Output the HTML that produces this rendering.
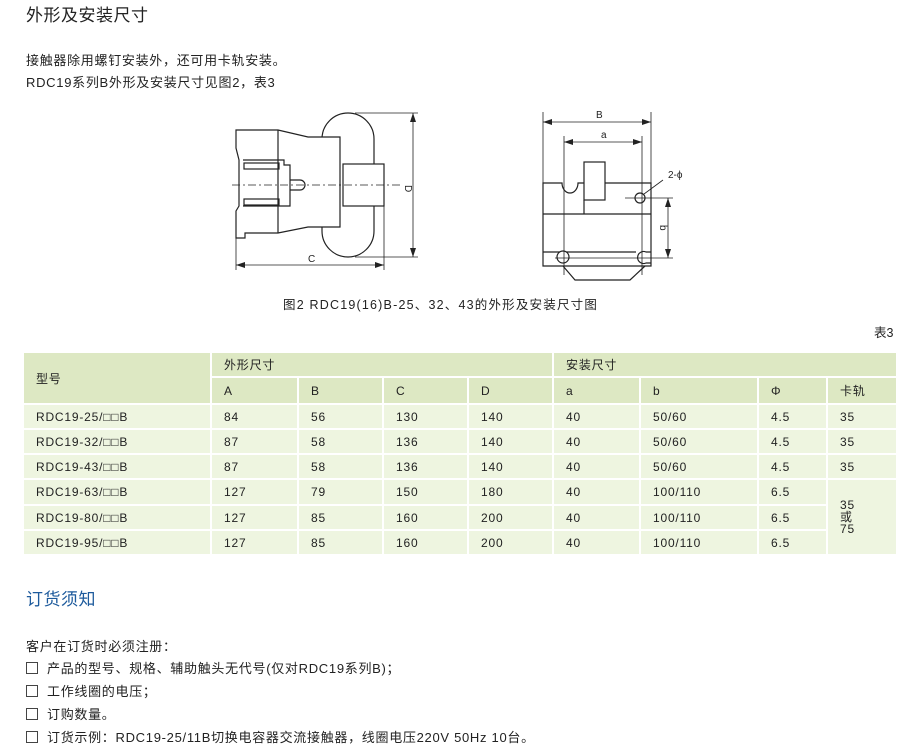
<!DOCTYPE html>
<html><head><meta charset="utf-8"><style>
body{margin:0;width:920px;height:751px;background:#fff;position:relative;font-family:"Liberation Sans","Noto Sans CJK SC",sans-serif;color:#222;overflow:hidden}
.t{position:absolute;white-space:nowrap;line-height:1}
.p{font-size:13px;letter-spacing:0.7px}
.cb{display:inline-block;width:10px;height:10px;border:1px solid #444;vertical-align:-1px;margin-right:9px}
table{position:absolute;left:24px;top:353px;border-collapse:separate;border-spacing:0;table-layout:fixed;width:874px;font-size:12px;letter-spacing:0.8px;color:#222}
td{box-sizing:border-box;border-right:2px solid #fff;border-bottom:2px solid #fff;padding:0 0 0 12px;background:#eef5e0;overflow:hidden;white-space:nowrap}
tr{height:25px}
tr.h td{background:#dde8c3}
</style></head><body>
<div class="t" style="left:26px;top:7px;font-size:17px;letter-spacing:0.5px">外形及安装尺寸</div>
<div class="t p" style="left:26px;top:54px">接触器除用螺钉安装外，还可用卡轨安装。</div>
<div class="t p" style="left:26px;top:76px">RDC19系列B外形及安装尺寸见图2，表3</div>

<svg style="position:absolute;left:0;top:0" width="920" height="330" fill="none" stroke="#222" stroke-width="1.2">
<rect x="322" y="113" width="52" height="144" rx="26"/>
<rect x="343" y="164" width="41" height="42" fill="#fff"/>
<path d="M236 130 H278 L308 137 H340 V227 H308 L278 233 H245 V238 H236 V211 L239 206 V160 L236 148 Z" fill="#fff"/>
<path d="M278 130 V233 M243 160 H284 V165 H290 V206 H284 M243 206 H284"/>
<rect x="244" y="163" width="35" height="6"/><rect x="244" y="199" width="35" height="6"/>
<path d="M290 180 H300 A4 4 0 0 1 300 190 H290"/>
<path d="M232 185 H400" stroke-dasharray="8 3 2 3" stroke-width="0.8"/>
<path d="M355 113 H418 M355 257 H418 M413 113 V257 M236 238 V270 M384 206 V270 M236 265 H384" stroke-width="0.8"/>
<path d="M413 113 l-3 9 h6z M413 257 l-3 -9 h6z M236 265 l9 -3 v6z M384 265 l-9 -3 v6z" fill="#222" stroke="none"/>
<path d="M543 183 H562 A8 10 0 0 0 578 183 H651 V266 H543 Z" fill="#fff"/>
<path d="M543 214 H651 M543 252 H636 M584 200 V214"/>
<rect x="584" y="162" width="21" height="38" fill="#fff"/>
<circle cx="640" cy="198" r="5"/>
<circle cx="563" cy="257" r="6" fill="#fff"/>
<path d="M651 252 H646 A6 6 0 1 0 646 263 H651"/>
<path d="M563 266 L575 280 H630 L645 266"/>
<path d="M543 112 V250 M651 112 V250 M543 122 H651 M564 136 V275 M642 136 V275 M564 142 H642 M625 198 H673 M555 258 H673 M668 198 V258 M644 194 L663 180" stroke-width="0.8"/>
<path d="M543 122 l9 -3 v6z M651 122 l-9 -3 v6z M564 142 l9 -3 v6z M642 142 l-9 -3 v6z M668 198 l-3 9 h6z M668 258 l-3 -9 h6z" fill="#222" stroke="none"/>
<g fill="#222" stroke="none" font-size="10" font-family="Liberation Sans,sans-serif">
<text x="596" y="118">B</text><text x="601" y="138">a</text>
<text x="308" y="262">C</text>
<text transform="translate(405,185) rotate(90)">D</text>
<text transform="translate(660,225) rotate(90)">b</text>
<text x="668" y="178">2-ϕ</text>
</g>
</svg>

<div class="t" style="left:283px;top:299px;font-size:12.5px;letter-spacing:1.2px">图2 RDC19(16)B-25、32、43的外形及安装尺寸图</div>
<div class="t" style="left:874px;top:327px;font-size:12.5px">表3</div>

<table>
<colgroup><col style="width:188px"><col style="width:87px"><col style="width:85px"><col style="width:85px"><col style="width:85px"><col style="width:87px"><col style="width:118px"><col style="width:69px"><col style="width:70px"></colgroup>
<tr class="h"><td rowspan="2">型号</td><td colspan="4">外形尺寸</td><td colspan="4">安装尺寸</td></tr>
<tr class="h" style="height:27px"><td>A</td><td>B</td><td>C</td><td>D</td><td>a</td><td>b</td><td>Φ</td><td>卡轨</td></tr>
<tr><td>RDC19-25/□□B</td><td>84</td><td>56</td><td>130</td><td>140</td><td>40</td><td>50/60</td><td>4.5</td><td>35</td></tr>
<tr><td>RDC19-32/□□B</td><td>87</td><td>58</td><td>136</td><td>140</td><td>40</td><td>50/60</td><td>4.5</td><td>35</td></tr>
<tr><td>RDC19-43/□□B</td><td>87</td><td>58</td><td>136</td><td>140</td><td>40</td><td>50/60</td><td>4.5</td><td>35</td></tr>
<tr style="height:26px"><td>RDC19-63/□□B</td><td>127</td><td>79</td><td>150</td><td>180</td><td>40</td><td>100/110</td><td>6.5</td><td rowspan="3" style="line-height:12px">35<br>或<br>75</td></tr>
<tr><td>RDC19-80/□□B</td><td>127</td><td>85</td><td>160</td><td>200</td><td>40</td><td>100/110</td><td>6.5</td></tr>
<tr><td>RDC19-95/□□B</td><td>127</td><td>85</td><td>160</td><td>200</td><td>40</td><td>100/110</td><td>6.5</td></tr>
</table>

<div class="t" style="left:26px;top:591px;font-size:17px;color:#1d5a9c;letter-spacing:0.5px">订货须知</div>
<div class="t p" style="left:26px;top:640px">客户在订货时必须注册：</div>
<div class="t p" style="left:26px;top:662px"><span class="cb"></span>产品的型号、规格、辅助触头无代号(仅对RDC19系列B)；</div>
<div class="t p" style="left:26px;top:685px"><span class="cb"></span>工作线圈的电压；</div>
<div class="t p" style="left:26px;top:708px"><span class="cb"></span>订购数量。</div>
<div class="t p" style="left:26px;top:731px"><span class="cb"></span>订货示例：RDC19-25/11B切换电容器交流接触器，线圈电压220V 50Hz 10台。</div>
</body></html>
